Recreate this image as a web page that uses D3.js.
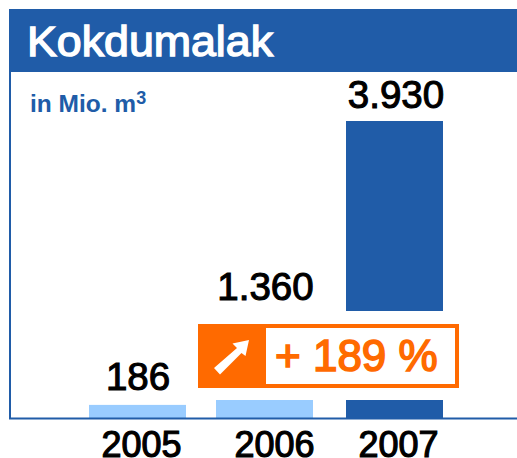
<!DOCTYPE html>
<html><head><meta charset="utf-8">
<script src="https://cdn.jsdelivr.net/npm/d3@7"></script>
<style>html,body{margin:0;padding:0;background:#fff}svg{display:block}text{font-family:"Liberation Sans",sans-serif}</style>
</head><body><svg id="c" width="517" height="458"></svg>
<script>
const years=["2005","2006","2007"];
const values=[186,1360,3930];
const valueLabels=["186","1.360","3.930"];
const barFills=["#99ccff","#99ccff","#205ca8"];
const title="Kokdumalak";
const unit="in Mio. m";
const changeLabel="+ 189 %";

const BLUE="#205ca8",ORANGE="#ff6a00";
const svg=d3.select("#c");
const x=d3.scaleOrdinal().domain(years).range([137.5,264.5,394.5]);
const xLabel=d3.scaleOrdinal().domain(years).range([141,274,398]);
const y=d3.scaleLinear().domain([0,3930]).range([419,121]);
const barW=97;

// frame
svg.append("rect").attr("x",9).attr("y",9).attr("width",508).attr("height",63).attr("fill",BLUE);
svg.append("line").attr("x1",10).attr("x2",10).attr("y1",72).attr("y2",419).attr("stroke",BLUE).attr("stroke-width",2);
svg.append("text").attr("x",27).attr("y",56).attr("fill","#fff").attr("stroke","#fff").attr("stroke-width",1.4)
 .attr("font-size",43).attr("textLength",246).attr("lengthAdjust","spacingAndGlyphs").text(title);
const u=svg.append("text").attr("x",30).attr("y",112).attr("fill",BLUE).attr("font-size",24.5).attr("font-weight",700).text(unit);
u.append("tspan").attr("font-size",18).attr("dy",-8).text("3");

// bars
svg.selectAll("rect.bar").data(years).join("rect").attr("class","bar")
 .attr("x",d=>x(d)-barW/2).attr("width",barW)
 .attr("y",(d,i)=>y(values[i])).attr("height",(d,i)=>y(0)-y(values[i]))
 .attr("fill",(d,i)=>barFills[i]);

// axis break band
svg.append("rect").attr("x",205).attr("y",311).attr("width",250).attr("height",89).attr("fill","#fff");

// baseline
svg.append("line").attr("x1",9).attr("x2",517).attr("y1",418.5).attr("y2",418.5).attr("stroke",BLUE).attr("stroke-width",2);

// value labels
const labelY=[390,300,108];
svg.selectAll("text.val").data(years).join("text").attr("class","val")
 .attr("x",(d,i)=>[138,265.5,396][i]).attr("y",(d,i)=>labelY[i])
 .attr("text-anchor","middle").attr("font-size",38.5).attr("fill","#000")
 .attr("stroke","#000").attr("stroke-width",1.1).text((d,i)=>valueLabels[i]);

// axis
const ax=svg.append("g").attr("transform","translate(0,457)").call(d3.axisBottom(xLabel).tickSize(0).tickPadding(0));
ax.select(".domain").remove();
ax.selectAll("text").attr("y",0).attr("dy",0).attr("font-size",36).attr("font-weight",400)
 .attr("style",'font-family:"Liberation Sans",sans-serif').attr("fill","#000").attr("stroke","#000").attr("stroke-width",1.2);

// callout
const g=svg.append("g");
g.append("rect").attr("x",198).attr("y",324).attr("width",68).attr("height",64).attr("fill",ORANGE);
g.append("rect").attr("x",264).attr("y",326).attr("width",193).attr("height",60).attr("fill","#fff").attr("stroke",ORANGE).attr("stroke-width",4);
g.append("path").attr("d","M220 374.5L214 368L237 348L232.500 343.500L249 340L245.500 356L241.500 353Z").attr("fill","#fff");
g.append("text").attr("x",275).attr("y",371).attr("font-size",44).attr("fill",ORANGE).attr("stroke",ORANGE).attr("stroke-width",1.6).text(changeLabel);
</script></body></html>
